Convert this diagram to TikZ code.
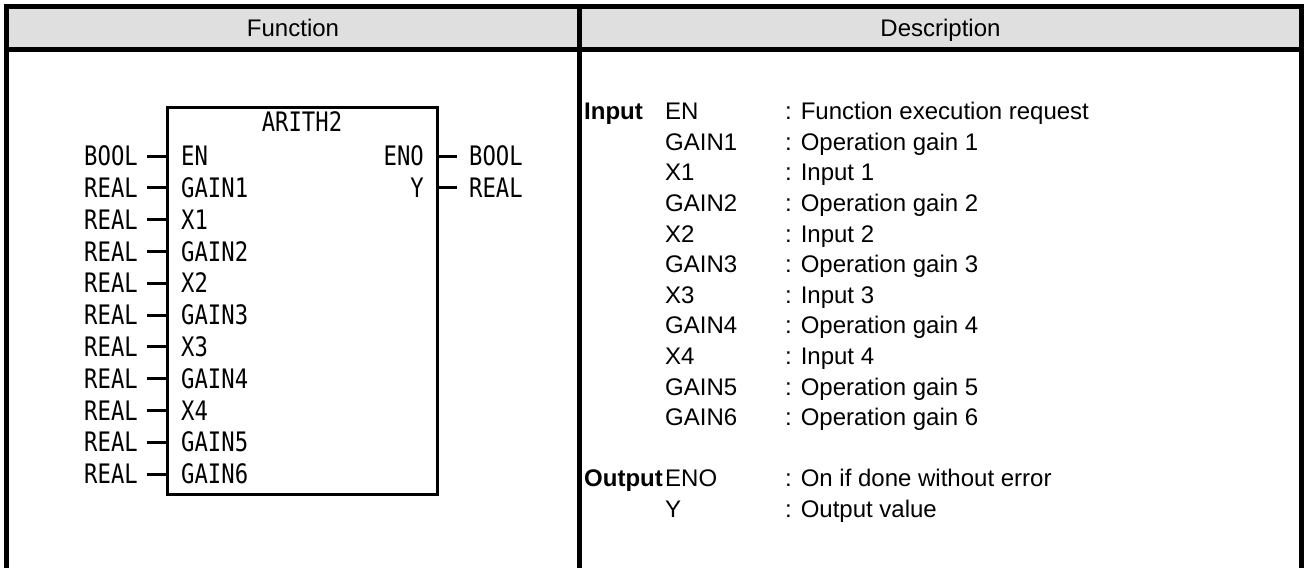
\documentclass[tikz,border=0pt]{standalone}
\usepackage{fontspec}
\setmainfont{Liberation Sans}
\newfontfamily\blockfont[FakeStretch=0.83]{DejaVu Sans Mono}
\usetikzlibrary{positioning}

\newcommand{\descsize}{\fontsize{24}{27}\selectfont}

\tikzset{
  frame/.style={line width=5pt},
  pin/.style={line width=3pt},
  blocktxt/.style={font=\blockfont\fontsize{26.8}{30}\selectfont, inner sep=0pt, text height=19.5pt, text depth=0pt},
  desc/.style={font=\descsize, inner sep=0pt, text height=17.2pt, text depth=0pt, anchor=west},
  deschead/.style={desc, font=\descsize\bfseries},
}

\begin{document}
\begin{tikzpicture}[x=1pt,y=-1pt]
    \useasboundingbox (0,0) rectangle (1309,568);

    % Header row
    \fill[black!12.5] (6.5,6.5) rectangle (1301.5,49.5);
    \node[desc, anchor=center] (fhead) at (293,28) {Function};
    \node[desc, anchor=center] (dhead) at (940.5,28) {Description};

    % Table frame
    \draw[frame] (6.5,568) -- (6.5,6.5) -- (1301.5,6.5) -- (1301.5,568);
    \draw[frame] (6.5,49.5) -- (1301.5,49.5);
    \draw[frame] (579.5,6.5) -- (579.5,568);

    % Function block
    \node[draw, pin, minimum width=270pt, minimum height=387pt, inner sep=0pt] (blk) at (302,300.5) {};
    \node[blocktxt] (title) at (302,122) {ARITH2};

    % Inputs
    \foreach \nm [count=\i from 0] in {EN,GAIN1,X1,GAIN2,X2,GAIN3,X3,GAIN4,X4,GAIN5,GAIN6} {
        \node[blocktxt, anchor=west] (pn\i) at (181,156+31.8*\i) {\nm};
        \node[blocktxt, anchor=east, inner xsep=9pt] (pt\i) at (147,156+31.8*\i) {\ifnum\i=0 BOOL\else REAL\fi};
        \draw[pin] (pt\i.east) -- (pt\i.east -| blk.west);
    }

    % Outputs
    \node[blocktxt, anchor=east] (qn0) at (424,156) {ENO};
    \node[blocktxt, anchor=east] (qn1) at (424,187.8) {Y};
    \node[blocktxt, anchor=west, inner xsep=12pt] (qt0) at (457,156) {BOOL};
    \node[blocktxt, anchor=west, inner xsep=12pt] (qt1) at (457,187.8) {REAL};
    \draw[pin] (qt0.west) -- (qt0.west -| blk.east);
    \draw[pin] (qt1.west) -- (qt1.west -| blk.east);

    % Description
    \node[deschead] (inlbl) at (584,111) {Input};
    \foreach \nm/\tx [count=\i from 0] in {EN/Function execution request, GAIN1/Operation gain 1,
        X1/Input 1, GAIN2/Operation gain 2, X2/Input 2, GAIN3/Operation gain 3, X3/Input 3,
        GAIN4/Operation gain 4, X4/Input 4, GAIN5/Operation gain 5, GAIN6/Operation gain 6} {
        \node[desc] (dn\i) at (665,111+30.6*\i) {\nm};
        \node[desc] (dt\i) at (785,111+30.6*\i) {: \tx};
    }
    \node[deschead] (outlbl) at (584,478) {Output};
    \node[desc] (on0) at (665,478) {ENO};
    \node[desc] (ot0) at (785,478) {: On if done without error};
    \node[desc] (on1) at (665,509) {Y};
    \node[desc] (ot1) at (785,509) {: Output value};
\end{tikzpicture}
\end{document}
